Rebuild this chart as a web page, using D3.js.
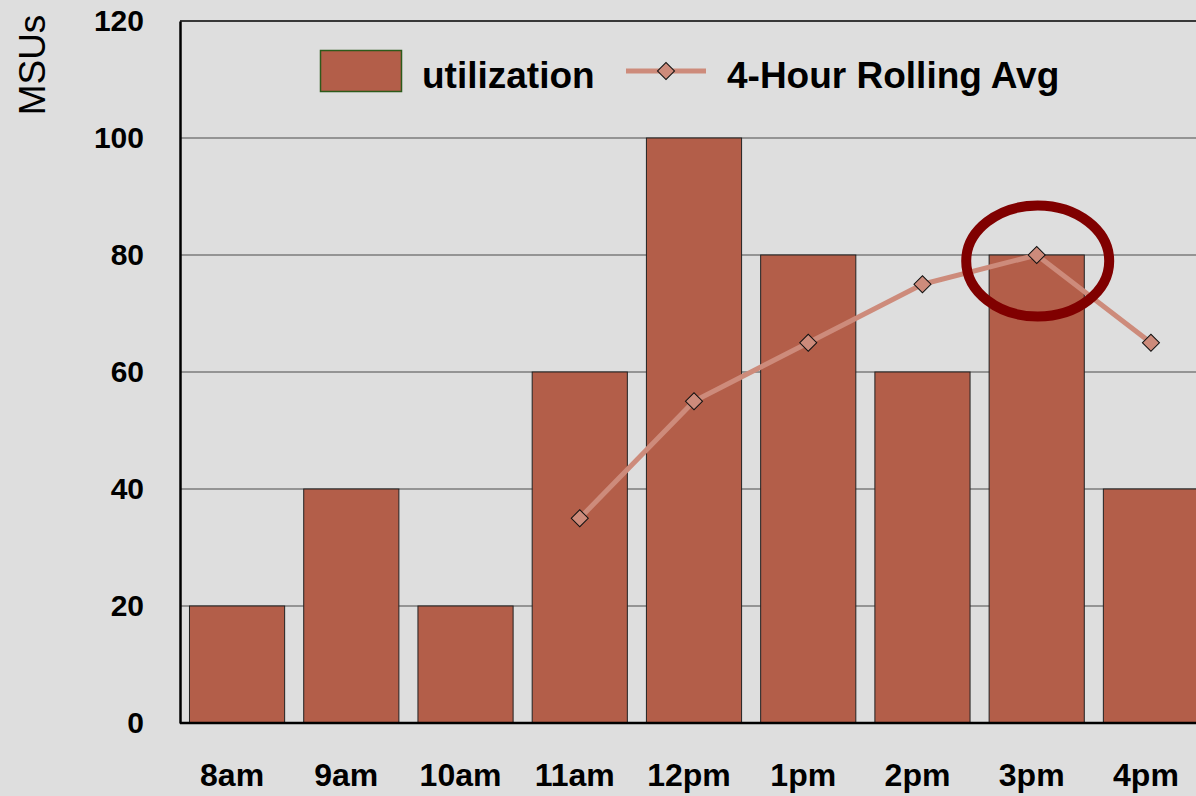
<!DOCTYPE html>
<html lang="en">
  <head>
    <meta charset="utf-8">
    <title>MSU utilization</title>
    <script src="https://d3js.org/d3.v7.min.js"></script>
    <style>
      body { margin: 0; background: #dedede; }
      text { font-family: Arial, "Liberation Sans", sans-serif; fill: #000; }
    </style>
  </head>
  <body>
    <div class="chart"></div>
    <script type="text/javascript">
      // chart values
      const hours = ['8am', '9am', '10am', '11am', '12pm', '1pm', '2pm', '3pm', '4pm'];
      const utilization = [20, 40, 20, 60, 100, 80, 60, 80, 40];
      const rollingHours = ['11am', '12pm', '1pm', '2pm', '3pm', '4pm'];
      const rollingAvg = [35, 55, 65, 75, 80, 65];
      const yTicks = [0, 20, 40, 60, 80, 100, 120];
      const highlightHour = '3pm';

      const width = 1196;
      const height = 796;
      const barColor = '#b35e49';
      const lineColor = '#cd8b7b';

      const svg = d3.select('.chart')
          .append('svg')
          .attr('width', width)
          .attr('height', height);

      svg.append('rect')
          .attr('width', width)
          .attr('height', height)
          .attr('fill', '#dedede');

      const xScale = d3.scaleBand()
          .domain(hours)
          .range([180, 1208])
          .paddingInner(0.167)
          .paddingOuter(0.083);

      const yScale = d3.scaleLinear()
          .domain([0, 120])
          .range([723, 21]);

      // gridlines
      svg.append('g')
          .selectAll('line')
          .data(yTicks.filter(d => d > 0 && d < 120))
          .join('line')
          .attr('x1', 180)
          .attr('x2', width)
          .attr('y1', d => yScale(d))
          .attr('y2', d => yScale(d))
          .attr('stroke', '#4a4a4a')
          .attr('stroke-width', 1.2);

      svg.append('line')
          .attr('x1', 180).attr('x2', width)
          .attr('y1', yScale(120)).attr('y2', yScale(120))
          .attr('stroke', '#000')
          .attr('stroke-width', 1.5);

      // bars
      svg.append('g')
          .selectAll('rect')
          .data(hours)
          .join('rect')
          .attr('x', d => xScale(d))
          .attr('y', (d, i) => yScale(utilization[i]))
          .attr('width', xScale.bandwidth())
          .attr('height', (d, i) => yScale(0) - yScale(utilization[i]))
          .attr('fill', barColor)
          .attr('stroke', '#222')
          .attr('stroke-width', 1);

      // y axis
      const yAxis = d3.axisLeft(yScale)
          .tickValues(yTicks)
          .tickSize(0)
          .tickPadding(36);

      const yG = svg.append('g')
          .attr('transform', 'translate(180,0)')
          .call(yAxis);
      yG.select('.domain').attr('stroke', '#000').attr('stroke-width', 2.5);
      yG.selectAll('text')
          .attr('font-size', 30)
          .attr('font-weight', 'bold')
          .attr('font-family', 'Arial, "Liberation Sans", sans-serif');

      // x axis
      const xAxis = d3.axisBottom(xScale)
          .tickSize(0)
          .tickPadding(40);

      const xG = svg.append('g')
          .attr('transform', 'translate(0,723)')
          .call(xAxis);
      xG.select('.domain').attr('d', 'M180,0H' + width).attr('stroke', '#000').attr('stroke-width', 2.5);
      xG.selectAll('text')
          .attr('font-size', 32)
          .attr('font-weight', 'bold')
          .attr('dx', -5)
          .attr('font-family', 'Arial, "Liberation Sans", sans-serif');

      // rolling average line
      const diamond = d3.symbol().type(d3.symbolSquare).size(145);
      const cx = h => xScale(h) + xScale.bandwidth() / 2;

      const line = d3.line()
          .x((d, i) => cx(rollingHours[i]))
          .y(d => yScale(d));

      svg.append('path')
          .datum(rollingAvg)
          .attr('d', line)
          .attr('fill', 'none')
          .attr('stroke', lineColor)
          .attr('stroke-linejoin', 'round')
          .attr('stroke-width', 5);

      svg.append('g')
          .selectAll('path')
          .data(rollingAvg)
          .join('path')
          .attr('d', diamond)
          .attr('transform', (d, i) => `translate(${cx(rollingHours[i])},${yScale(d)}) rotate(45)`)
          .attr('fill', lineColor)
          .attr('stroke', '#111')
          .attr('stroke-width', 1);

      // highlight ellipse
      const hiIndex = rollingHours.indexOf(highlightHour);
      svg.append('ellipse')
          .attr('cx', cx(highlightHour) + 1)
          .attr('cy', yScale(rollingAvg[hiIndex]) + 6)
          .attr('rx', 71.5)
          .attr('ry', 55.5)
          .attr('fill', 'none')
          .attr('stroke', '#800000')
          .attr('stroke-width', 10);

      // legend
      const legend = svg.append('g');
      legend.append('rect')
          .attr('x', 320.5).attr('y', 50.5)
          .attr('width', 81).attr('height', 41)
          .attr('fill', barColor)
          .attr('stroke', '#2d5a1b')
          .attr('stroke-width', 1.5);
      legend.append('text')
          .attr('x', 422).attr('y', 88)
          .attr('font-size', 37)
          .attr('font-weight', 'bold')
          .text('utilization');
      legend.append('line')
          .attr('x1', 626).attr('x2', 706)
          .attr('y1', 71).attr('y2', 71)
          .attr('stroke', lineColor)
          .attr('stroke-width', 5);
      legend.append('path')
          .attr('d', diamond)
          .attr('transform', 'translate(666,71) rotate(45)')
          .attr('fill', lineColor)
          .attr('stroke', '#111')
          .attr('stroke-width', 1);
      legend.append('text')
          .attr('x', 727).attr('y', 88)
          .attr('font-size', 37)
          .attr('font-weight', 'bold')
          .text('4-Hour Rolling Avg');

      // y axis title
      svg.append('text')
          .attr('transform', 'translate(45,65) rotate(-90)')
          .attr('text-anchor', 'middle')
          .attr('font-size', 37)
          .text('MSUs');
    </script>
  </body>
</html>
